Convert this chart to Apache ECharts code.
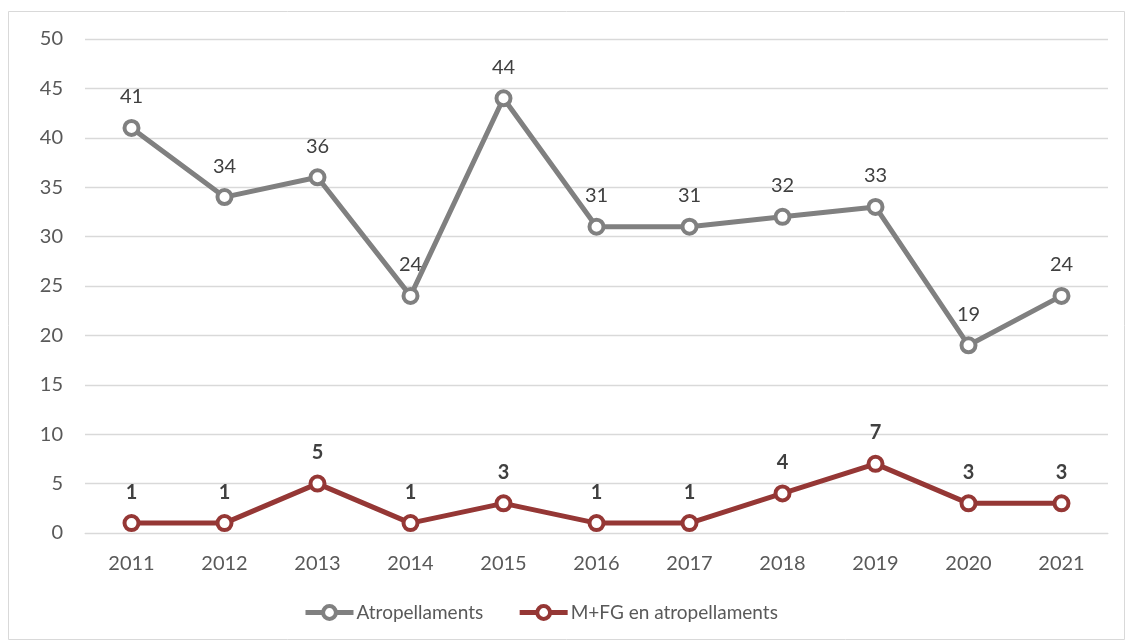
<!DOCTYPE html>
<html><head><meta charset="utf-8">
<script src="https://cdn.jsdelivr.net/npm/echarts@6/dist/echarts.min.js"></script>
<style>html,body{margin:0;padding:0;background:#fff}#c{width:1132px;height:643px}</style>
</head><body><div id="c"></div>
<script>
const years = ['2011','2012','2013','2014','2015','2016','2017','2018','2019','2020','2021'];
const atropellaments = [41,34,36,24,44,31,31,32,33,19,24];
const mfg = [1,1,5,1,3,1,1,4,7,3,3];
const seriesNames = ['Atropellaments','M+FG en atropellaments'];
const font = 'Lato, "Liberation Sans", sans-serif';
const chart = echarts.init(document.getElementById('c'));
chart.setOption({
  animation:false,
  backgroundColor:'#fff',
  graphic:[{type:'rect',shape:{x:8.5,y:11.5,width:1116,height:628},style:{fill:'none',stroke:'#d9d9d9',lineWidth:1}}],
  grid:{left:85,right:24,top:39,bottom:110},
  legend:{bottom:16,left:298,itemWidth:48,itemHeight:16,itemGap:34,
    lineStyle:{width:5},itemStyle:{borderWidth:4},
    textStyle:{fontFamily:font,fontSize:19,color:'#595959',padding:[0,0,0,-2]},data:seriesNames},
  xAxis:{type:'category',data:years,boundaryGap:true,
    axisLine:{lineStyle:{color:'#d9d9d9'}},axisTick:{show:false},
    axisLabel:{fontFamily:font,fontSize:20,color:'#595959',margin:21}},
  yAxis:{type:'value',min:0,max:50,interval:5,
    axisLine:{show:false},axisTick:{show:false},
    splitLine:{lineStyle:{color:'#d9d9d9',width:1.3}},
    axisLabel:{fontFamily:font,fontSize:20,color:'#595959',margin:22}},
  series:[
    {name:seriesNames[0],type:'line',data:atropellaments,symbol:'circle',symbolSize:14,
     lineStyle:{color:'#808080',width:5},itemStyle:{color:'#ffffff',borderWidth:4,borderColor:'#808080'},
     label:{show:true,position:'top',distance:12,fontFamily:font,fontSize:20,color:'#404040'}},
    {name:seriesNames[1],type:'line',data:mfg,symbol:'circle',symbolSize:14,
     lineStyle:{color:'#953735',width:5},itemStyle:{color:'#ffffff',borderWidth:4,borderColor:'#953735'},
     label:{show:true,position:'top',distance:12,fontFamily:font,fontSize:20,fontWeight:'bold',color:'#404040'}}
  ]
});
</script></body></html>
